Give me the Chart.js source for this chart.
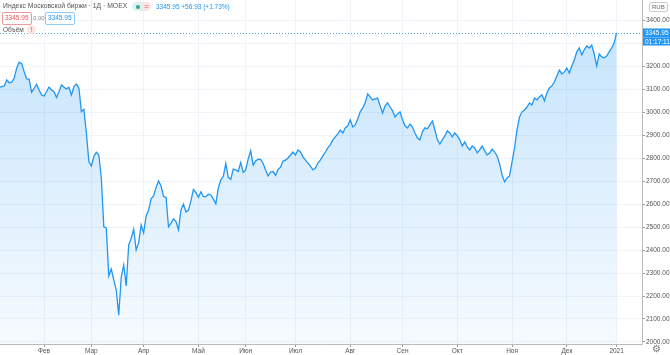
<!DOCTYPE html>
<html><head><meta charset="utf-8">
<script src="https://cdn.jsdelivr.net/npm/chart.js@4"></script>
<style>
html,body{margin:0;padding:0;background:#fff;}
#wrap{position:relative;width:670px;height:355px;overflow:hidden;font-family:'Liberation Sans',Arial,sans-serif;}
canvas{position:absolute;left:0;top:0;}
.t{position:absolute;white-space:nowrap;line-height:1;}
.box{position:absolute;border:1px solid;border-radius:2px;font-size:6.5px;padding:2px 2px;line-height:1;background:#fff;}
</style></head><body>
<div id="wrap">
<canvas id="c" width="670" height="355"></canvas>
<div class="t" style="left:3px;top:3px;font-size:6.8px;color:#555;">Индекс Московской биржи · 1Д · MOEX</div>
<div class="t" style="left:132px;top:2px;width:16px;height:9px;border-radius:5px;background:#e0f2ec;"></div>
<div class="t" style="left:136px;top:5px;width:4px;height:4px;border-radius:2px;background:#26a69a;"></div>
<div class="t" style="left:142px;top:2px;width:9px;height:9px;border-radius:5px;background:#fde3e3;color:#ef5350;font-size:8px;text-align:center;line-height:9px;">=</div>
<div class="t" style="left:156px;top:4px;font-size:6.5px;color:#2196f3;">3345.95 +56.93 (+1.73%)</div>
<div class="box" style="left:2px;top:12px;border-color:#ef9a9a;color:#ef5350;">3345.95</div>
<div class="t" style="left:33px;top:15px;font-size:6px;color:#888;">0.00</div>
<div class="box" style="left:45px;top:12px;border-color:#90caf9;color:#2196f3;">3345.95</div>
<div class="t" style="left:3px;top:27px;font-size:6.5px;color:#555;">Объём</div>
<div class="t" style="left:27px;top:25px;width:9px;height:9px;border-radius:5px;background:#fde3e3;color:#ef5350;font-size:7px;text-align:center;line-height:9px;">!</div>
<div class="t" style="left:649px;top:2px;font-size:6px;color:#666;border:1px solid #ccc;border-radius:2px;padding:1px 2px;">RUB</div>
<div class="t" style="left:652px;top:344px;font-size:10px;color:#777;">⚙</div>
</div>
<script>
// trading-day index (0 = first trading day of February 2020)
const days = [-18,-16,-15,-14,-13,-12,-11,-10,-9,-8,-7,-6,-5,-3,-2,-1,0,2,3,4,5,6,7,8,9,10,11,12,13,14,15,16,17,18,19,20,21,22,23,24,25,26,27,28,29,30,31,32,33,34,35,36,37,38,39,40,41,42,43,44,45,46,47,48,49,50,51,52,53,54,55,56,57,58,59,60,61,62,63,64,65,66,67,68,69,70,71,72,73,74,75,76,77,78,79,80,81,82,83,84,85,86,87,88,89,90,91,92,93,94,95,96,97,98,99,100,101,102,103,104,105,106,107,108,109,110,111,112,113,114,115,116,117,118,119,120,121,122,123,124,125,126,127,128,129,130,131,132,133,134,135,136,137,138,139,140,141,142,143,144,145,146,147,148,149,150,151,152,153,154,155,156,157,158,159,160,161,162,163,164,165,166,167,168,169,170,171,172,173,174,175,176,177,178,179,180,181,182,183,184,185,186,187,188,189,190,191,192,193,194,195,196,197,198,199,200,201,202,203,204,205,206,207,208,209,210,211,212,213,214,215,216,217,218,219,220,221,222,223,224,225,226,227,228,229,230];
const closes = [3109,3115,3141,3129,3131,3148,3192,3218,3212,3177,3145,3144,3087,3122,3097,3075,3071,3110,3097,3090,3064,3090,3119,3109,3102,3109,3075,3112,3123,3105,3003,3013,2909,2785,2766,2807,2826,2814,2714,2501,2496,2287,2317,2270,2226,2117,2281,2335,2244,2422,2451,2491,2401,2431,2509,2475,2549,2573,2623,2636,2673,2701,2679,2633,2630,2501,2517,2536,2524,2488,2575,2600,2566,2573,2614,2664,2650,2630,2654,2633,2633,2643,2640,2623,2601,2671,2705,2721,2777,2717,2708,2753,2749,2742,2781,2738,2749,2797,2832,2770,2788,2796,2795,2777,2749,2723,2740,2742,2725,2751,2761,2788,2792,2801,2814,2827,2814,2836,2827,2806,2792,2779,2766,2749,2757,2779,2792,2810,2827,2845,2858,2880,2893,2906,2923,2910,2932,2941,2967,2936,2945,2971,3002,3019,3041,3080,3067,3054,3058,3062,3028,2997,3028,3041,3023,3006,2980,2993,3002,2967,2941,2932,2949,2936,2910,2888,2880,2915,2932,2928,2945,2962,2923,2880,2862,2880,2897,2919,2910,2893,2910,2897,2880,2853,2871,2849,2836,2853,2845,2823,2836,2853,2832,2814,2823,2840,2827,2810,2775,2727,2697,2714,2723,2784,2845,2923,2980,3002,3010,3023,3041,3032,3062,3054,3067,3076,3050,3084,3106,3115,3132,3158,3184,3167,3176,3193,3171,3202,3228,3263,3280,3250,3272,3289,3280,3293,3254,3202,3254,3241,3237,3245,3263,3280,3302,3345.95];
const monthTickDays = [0,19,40,62,81,101,123,144,166,188,210,230];
const monthLabels = ['Фев','Мар','Апр','Май','Июн','Июл','Авг','Сен','Окт','Ноя','Дек','2021'];
const yTicks = [2000,2100,2200,2300,2400,2500,2600,2700,2800,2900,3000,3100,3200,3300,3400];
const lastTime = '01:17:11';

const points = days.map((d,i)=>({x:d,y:closes[i]}));
const lastVal = closes[closes.length-1];

Chart.defaults.font.family = "'Liberation Sans', Arial, sans-serif";
Chart.defaults.font.size = 6.5;
Chart.defaults.color = '#555';

const priceLine = {
  id:'priceLine',
  afterDatasetsDraw(chart){
    const {ctx, chartArea:a, scales:{y}} = chart;
    const py = Math.round(y.getPixelForValue(lastVal))+0.5;
    ctx.save();
    ctx.strokeStyle = 'rgba(33,150,243,0.8)';
    ctx.lineWidth = 1;
    ctx.setLineDash([1,2]);
    ctx.beginPath(); ctx.moveTo(a.left,py); ctx.lineTo(a.right,py); ctx.stroke();
    ctx.setLineDash([]);
    ctx.fillStyle = '#2196f3';
    ctx.fillRect(a.right+1, py-5, 27, 9);
    ctx.fillRect(a.right+1, py+4, 27, 8);
    ctx.fillStyle = '#fff';
    ctx.font = "6.5px 'Liberation Sans', Arial";
    ctx.textBaseline = 'middle';
    ctx.textAlign = 'left';
    ctx.fillText(lastVal.toFixed(2), a.right+3, py);
    ctx.fillText(lastTime, a.right+3, py+8.5);
    ctx.restore();
  }
};

new Chart(document.getElementById('c'), {
  type:'line',
  data:{datasets:[{
    data:points,
    borderColor:'#2196f3',
    borderWidth:1.3,
    pointRadius:0,
    tension:0,
    fill:'start',
    backgroundColor(ctx){
      const a = ctx.chart.chartArea;
      if(!a) return 'rgba(33,150,243,0.15)';
      const g = ctx.chart.ctx.createLinearGradient(0,a.top,0,a.bottom);
      g.addColorStop(0,'rgba(33,150,243,0.28)');
      g.addColorStop(1,'rgba(33,150,243,0.04)');
      return g;
    }
  }]},
  options:{
    responsive:false,
    animation:false,
    layout:{padding:0},
    plugins:{legend:{display:false},tooltip:{enabled:false}},
    scales:{
      x:{
        type:'linear', min:-17.7, max:240.2,
        afterBuildTicks(s){ s.ticks = monthTickDays.map(v=>({value:v})); },
        afterFit(s){ s.height = 11; s.paddingLeft = 0; s.paddingRight = 0; },
        ticks:{autoSkip:false, maxRotation:0, padding:0, color:'#555',
          callback(v){ const i = monthTickDays.indexOf(v); return i>=0?monthLabels[i]:''; }},
        grid:{color:'#f0f3fa', tickLength:3, tickColor:'#999'},
        border:{color:'#bbb'}
      },
      y:{
        position:'right', min:1991, max:3489,
        afterBuildTicks(s){ s.ticks = yTicks.map(v=>({value:v})); },
        afterFit(s){ s.width = 28; s.paddingTop = 0; s.paddingBottom = 0; },
        ticks:{padding:1, color:'#555', callback(v){ return v.toFixed(2); }},
        grid:{color:'#f0f3fa', tickLength:3, tickColor:'#999'},
        border:{color:'#bbb'}
      }
    }
  },
  plugins:[priceLine]
});
</script>
</body></html>
